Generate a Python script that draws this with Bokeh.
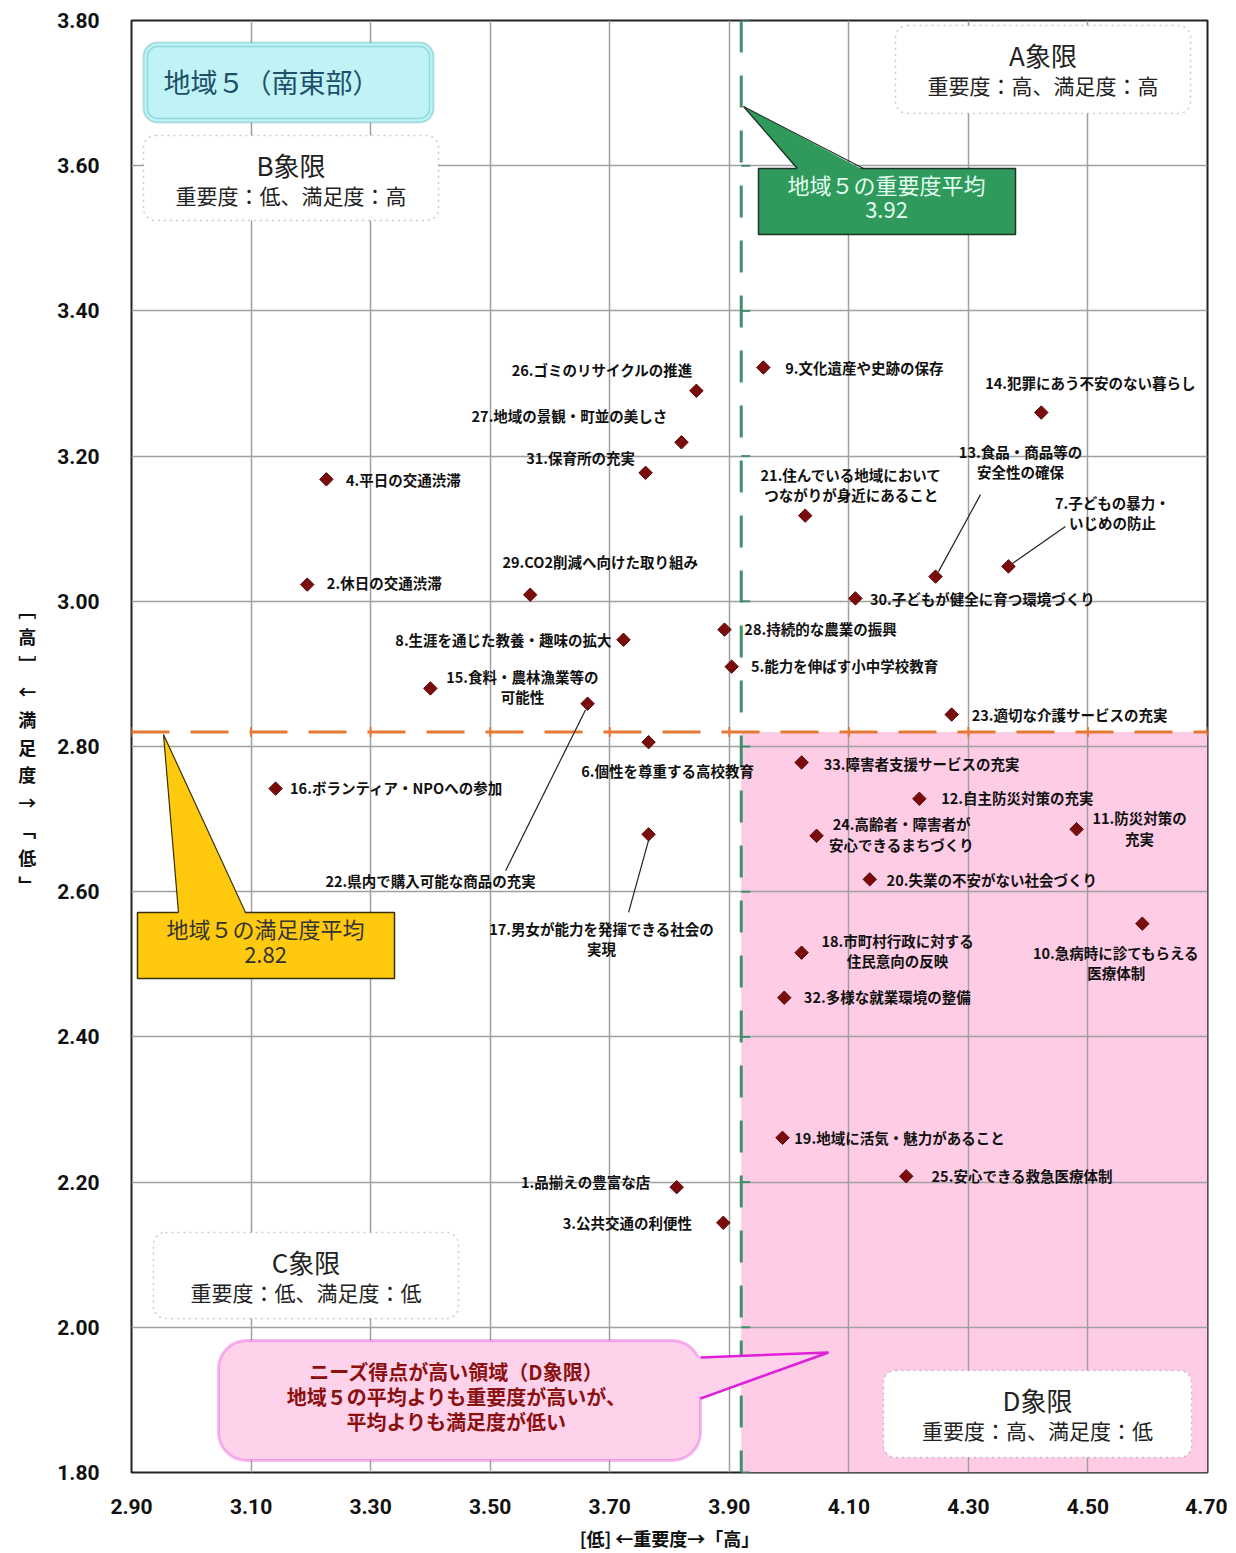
from bokeh.plotting import figure
from bokeh.models import FixedTicker, PrintfTickFormatter, BoxAnnotation, Label, Range1d
from bokeh.core.properties import value
from bokeh.embed import file_html
from bokeh.resources import INLINE

# ---------------- data ----------------
item_labels = [
    "1.品揃えの豊富な店",
    "2.休日の交通渋滞",
    "3.公共交通の利便性",
    "4.平日の交通渋滞",
    "5.能力を伸ばす小中学校教育",
    "6.個性を尊重する高校教育",
    "7.子どもの暴力・\nいじめの防止",
    "8.生涯を通じた教養・趣味の拡大",
    "9.文化遺産や史跡の保存",
    "10.急病時に診てもらえる\n医療体制",
    "11.防災対策の\n充実",
    "12.自主防災対策の充実",
    "13.食品・商品等の\n安全性の確保",
    "14.犯罪にあう不安のない暮らし",
    "15.食料・農林漁業等の\n可能性",
    "16.ボランティア・NPOへの参加",
    "17.男女が能力を発揮できる社会の\n実現",
    "18.市町村行政に対する\n住民意向の反映",
    "19.地域に活気・魅力があること",
    "20.失業の不安がない社会づくり",
    "21.住んでいる地域において\nつながりが身近にあること",
    "22.県内で購入可能な商品の充実",
    "23.適切な介護サービスの充実",
    "24.高齢者・障害者が\n安心できるまちづくり",
    "25.安心できる救急医療体制",
    "26.ゴミのリサイクルの推進",
    "27.地域の景観・町並の美しさ",
    "28.持続的な農業の振興",
    "29.CO2削減へ向けた取り組み",
    "30.子どもが健全に育つ環境づくり",
    "31.保育所の充実",
    "32.多様な就業環境の整備",
    "33.障害者支援サービスの充実",
]
importance = [3.812, 3.194, 3.890, 3.226, 3.904, 3.765, 4.367, 3.723, 3.957, 4.591,
              4.481, 4.218, 4.245, 4.422, 3.400, 3.141, 3.765, 4.021, 3.989, 4.135,
              4.027, 3.663, 4.272, 4.046, 4.196, 3.845, 3.820, 3.892, 3.567, 4.111,
              3.760, 3.992, 4.021]
satisfaction = [2.193, 3.023, 2.144, 3.168, 2.910, 2.806, 3.048, 2.947, 3.322, 2.556,
                2.686, 2.728, 3.034, 3.260, 2.880, 2.742, 2.679, 2.516, 2.261, 2.617,
                3.118, 2.859, 2.844, 2.677, 2.208, 3.290, 3.219, 2.961, 3.009, 3.004,
                3.177, 2.454, 2.778]
mean_importance = 3.92
mean_satisfaction = 2.82
x_ticks = [2.9, 3.1, 3.3, 3.5, 3.7, 3.9, 4.1, 4.3, 4.5, 4.7]
y_ticks = [1.8, 2.0, 2.2, 2.4, 2.6, 2.8, 3.0, 3.2, 3.4, 3.6, 3.8]
region_title = "地域５（南東部）"
quadrant_names = ["A象限", "B象限", "C象限", "D象限"]
quadrant_desc = ["重要度：高、満足度：高", "重要度：低、満足度：高",
                 "重要度：低、満足度：低", "重要度：高、満足度：低"]
x_title = "[低] ←重要度→「高」"
y_title_chars = ["﹇", "高", "﹈", "←", "満", "足", "度", "→", "﹁", "低", "﹂"]
importance_note = "地域５の重要度平均"
satisfaction_note = "地域５の満足度平均"
needs_note = ["ニーズ得点が高い領域（D象限）",
              "地域５の平均よりも重要度が高いが、",
              "平均よりも満足度が低い"]

# ---------------- layout (pixels) ----------------
X_MIN, X_MAX = x_ticks[0], x_ticks[-1]
Y_MIN, Y_MAX = y_ticks[0], y_ticks[-1]
FW, FH = 1076, 1452
PX0, PY0 = 131, 20
SX = (X_MAX - X_MIN) / FW
SY = (Y_MAX - Y_MIN) / FH


def X(px):
    return X_MIN + (px - PX0) * SX


def Y(py):
    return Y_MAX - (py - PY0) * SY


# label centre offsets from each point (px, +dy = down)
label_dx = [-91, 77, -96, 77, 113, 19, 104, -120, 101, -26,
            63, 98, 85, 49, 92, 121, -47, 96, 117, 122,
            46, -157, 118, 85, 116, -94, -112, 96, 70, 127,
            -65, 103, 120]
label_dy = [-6, -2, 0, 0, -1, 28, -54, 0, 0, 39,
            -1, -1, -115, -30, -2, -1, 104, -2, 0, 0,
            -31, 177, 0, -2, -1, -21, -27, -1, -33, 0,
            -15, -1, 1]
# leader lines: (item index, start dx, start dy, end dx, end dy)
leaders = [(6, 4, -3, 57, -40), (12, 3, -5, 45, -82),
           (16, 0, 6, -20, 78), (21, -2, 6, -82, 167)]

FONT_JP = "Noto Sans CJK JP"

p = figure(frame_width=FW, frame_height=FH,
           x_range=Range1d(X_MIN, X_MAX), y_range=Range1d(Y_MIN, Y_MAX),
           output_backend="svg", toolbar_location=None,
           min_border_left=PX0, min_border_right=20,
           min_border_top=PY0, min_border_bottom=70,
           background_fill_color="white", border_fill_color="white")

xt = FixedTicker(ticks=x_ticks)
yt = FixedTicker(ticks=y_ticks)
p.xaxis.ticker = xt
p.yaxis.ticker = yt
p.xgrid.ticker = xt
p.ygrid.ticker = yt
p.xaxis.formatter = PrintfTickFormatter(format="%.2f")
p.yaxis.formatter = PrintfTickFormatter(format="%.2f")
for ax in (p.xaxis, p.yaxis):
    ax.axis_line_color = None
    ax.major_tick_line_color = None
    ax.minor_tick_line_color = None
    ax.major_label_text_font = "Roboto"
    ax.major_label_text_font_style = "bold"
    ax.major_label_text_font_size = "21px"
    ax.major_label_text_color = "#111111"
p.xaxis.major_label_standoff = 20
p.yaxis.major_label_standoff = 26
p.xaxis.axis_label = x_title
p.xaxis.axis_label_text_font = FONT_JP
p.xaxis.axis_label_text_font_style = "bold"
p.xaxis.axis_label_text_font_size = "18px"
p.xaxis.axis_label_text_color = "#111111"
p.xaxis.axis_label_standoff = 8

p.yaxis.axis_label = "\n".join(y_title_chars)
p.yaxis.axis_label_orientation = "horizontal"
p.yaxis.axis_label_text_font = FONT_JP
p.yaxis.axis_label_text_font_style = "bold"
p.yaxis.axis_label_text_font_size = "18px"
p.yaxis.axis_label_text_color = "#111111"
p.yaxis.axis_label_text_line_height = 1.06
p.yaxis.axis_label_standoff = 18

p.grid.grid_line_color = "#a0a0a0"
p.grid.grid_line_width = 1.5
p.outline_line_color = "#222222"
p.outline_line_width = 2

# D-quadrant pink region
p.quad(left=[mean_importance], right=[X_MAX], bottom=[Y_MIN], top=[mean_satisfaction],
       fill_color="#FFCCE6", line_color=None, level="image")

# mean lines
p.line(x=[mean_importance, mean_importance], y=[Y_MAX, Y_MIN],
       line_color="#3F8F6A", line_width=3, line_dash="32 23")
p.segment(x0=[mean_importance] * len(y_ticks), y0=y_ticks,
          x1=[mean_importance + 9 * SX] * len(y_ticks), y1=y_ticks,
          line_color="#3F8F6A", line_width=2)
p.line(x=[X_MIN, X_MAX], y=[mean_satisfaction, mean_satisfaction],
       line_color="#E57A35", line_width=3, line_dash="38 21")
p.segment(x0=x_ticks, y0=[mean_satisfaction - 5 * SY] * len(x_ticks),
          x1=x_ticks, y1=[mean_satisfaction + 5 * SY] * len(x_ticks),
          line_color="#E57A35", line_width=2)

# leader lines
for i, sdx, sdy, edx, edy in leaders:
    p.line(x=[importance[i] + sdx * SX, importance[i] + edx * SX],
           y=[satisfaction[i] - sdy * SY, satisfaction[i] - edy * SY],
           line_color="#222222", line_width=1.2)

# points
p.scatter(x=importance, y=satisfaction, marker="square", angle=0.785398,
          size=9.5, fill_color="#7B0C0C", line_color="#5A0505", line_width=1)

# point labels
lx = [importance[i] + label_dx[i] * SX for i in range(len(item_labels))]
ly = [satisfaction[i] - label_dy[i] * SY for i in range(len(item_labels))]
p.text(x=lx, y=ly, text=item_labels, text_align="center", text_baseline="middle",
       text_font=value(FONT_JP), text_font_style="bold", text_font_size="14.5px",
       text_color="#111111", text_line_height=0.98)

# ---------- quadrant boxes ----------
qboxes = [(895, 1190, 25, 113), (143, 438, 135, 220), (153, 458, 1232, 1318), (883, 1191, 1370, 1457)]
for (l, r, t, b), nm, ds in zip(qboxes, quadrant_names, quadrant_desc):
    p.add_layout(BoxAnnotation(left=X(l), right=X(r), top=Y(t), bottom=Y(b),
                               fill_color="white", fill_alpha=1.0, line_color="#555555",
                               line_dash="dotted", line_width=1.5, border_radius=12))
    cx = X((l + r) / 2)
    p.add_layout(Label(x=cx, y=Y(t + 29), text=nm, text_align="center", text_baseline="middle",
                       text_font=FONT_JP, text_font_size="26px", text_color="#222222"))
    p.add_layout(Label(x=cx, y=Y(t + 59), text=ds, text_align="center", text_baseline="middle",
                       text_font=FONT_JP, text_font_size="21px", text_color="#222222"))

# ---------- region title ----------
p.add_layout(BoxAnnotation(left=X(143), right=X(433), top=Y(42), bottom=Y(122),
                           fill_color="#BFF3F5", fill_alpha=1.0, line_color="#2C9E9E",
                           line_width=2, border_radius=14))
p.add_layout(BoxAnnotation(left=X(147), right=X(429), top=Y(46), bottom=Y(118),
                           fill_alpha=0.0, line_color="#2C9E9E", line_width=1.5, border_radius=10))
p.add_layout(Label(x=X(163), y=Y(81), text=region_title, text_align="left", text_baseline="middle",
                   text_font=FONT_JP, text_font_size="27px", text_color="#1D4F6B"))

# ---------- importance mean callout (green) ----------
p.quad(left=[X(758)], right=[X(1015)], top=[Y(168)], bottom=[Y(234)],
       fill_color="#2F9A5C", line_color="#1E3326", line_width=1.5)
p.patch(x=[X(797), X(743), X(863)], y=[Y(169.5), Y(106), Y(169.5)], fill_color="#2F9A5C", line_color=None)
p.line(x=[X(797), X(743), X(863)], y=[Y(168), Y(106), Y(168)], line_color="#1E3326", line_width=1.2)
p.add_layout(Label(x=X(886), y=Y(183), text=importance_note, text_align="center", text_baseline="middle",
                   text_font=FONT_JP, text_font_size="22px", text_color="#E2FFF0"))
p.add_layout(Label(x=X(886), y=Y(209), text=f"{mean_importance:.2f}", text_align="center",
                   text_baseline="middle", text_font=FONT_JP, text_font_size="22px", text_color="#E2FFF0"))

# ---------- satisfaction mean callout (yellow) ----------
p.quad(left=[X(137)], right=[X(394)], top=[Y(912)], bottom=[Y(978)],
       fill_color="#FFC90E", line_color="#3A3000", line_width=1.5)
p.patch(x=[X(178), X(163), X(245)], y=[Y(913.5), Y(734), Y(913.5)], fill_color="#FFC90E", line_color=None)
p.line(x=[X(178), X(163), X(245)], y=[Y(912), Y(734), Y(912)], line_color="#3A3000", line_width=1.2)
p.add_layout(Label(x=X(265), y=Y(927), text=satisfaction_note, text_align="center", text_baseline="middle",
                   text_font=FONT_JP, text_font_size="22px", text_color="#333333"))
p.add_layout(Label(x=X(265), y=Y(954), text=f"{mean_satisfaction:.2f}", text_align="center",
                   text_baseline="middle", text_font=FONT_JP, text_font_size="22px", text_color="#333333"))

# ---------- D-quadrant needs callout (pink) ----------
p.add_layout(BoxAnnotation(left=X(218), right=X(700), top=Y(1340), bottom=Y(1460),
                           fill_color="#FFD2EC", fill_alpha=1.0, line_color="#E020D8",
                           line_width=3, border_radius=28))
p.patch(x=[X(694), X(828), X(694)], y=[Y(1357), Y(1352), Y(1398)], fill_color="#FFD2EC",
        line_color=None, level="overlay")
p.line(x=[X(700), X(828), X(700)], y=[Y(1357), Y(1352), Y(1398)], line_color="#E020D8",
       line_width=2.5, level="overlay")
for k, t in enumerate(needs_note):
    p.add_layout(Label(x=X(456), y=Y(1371 + 25 * k), text=t, text_align="center", text_baseline="middle",
                       text_font=FONT_JP, text_font_style="bold", text_font_size="20px",
                       text_color="#8B1010"))

open("out.html", "w").write(file_html(p, INLINE))
